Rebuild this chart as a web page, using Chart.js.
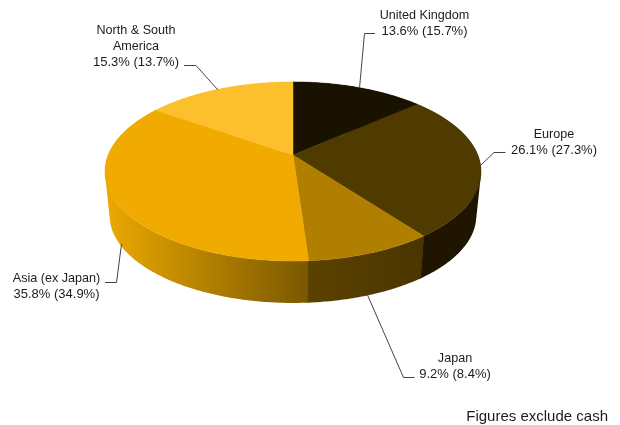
<!DOCTYPE html>
<html>
<head>
<meta charset="utf-8">
<style>
  html, body { margin: 0; padding: 0; background: #ffffff; }
  canvas { display: block; }
</style>
<script src="https://cdn.jsdelivr.net/npm/chart.js@4/dist/chart.umd.min.js"></script>
</head>
<body>
<canvas id="chart" width="620" height="425"></canvas>
<script>
// Portfolio split by region: current weight and, in brackets, the prior weight.
const regions = ['United Kingdom', 'Europe', 'Japan', 'Asia (ex Japan)', 'North & South America'];
const weights = [13.6, 26.1, 9.2, 35.8, 15.3];
const priorWeights = [15.7, 27.3, 8.4, 34.9, 13.7];
const topColours = ['#1a1200', '#4f3a00', '#b07f00', '#f0aa00', '#fdc02d'];
const wallColoursFrom = ['#1a1200', '#1f1500', '#5c4200', '#eca900', '#fdc02d'];
const wallColoursTo = ['#1a1200', '#1f1500', '#4a3500', '#7a5800', '#fdc02d'];
const footnote = 'Figures exclude cash';

// Perspective disc: centre, half axes and foreshortening of the top face.
const disc = { cx: 293, cy: 155, kx: 184.8, ky: 86.5, tilt: 0.184 };
// The lower rim sits further from the eye, so it is slightly smaller.
const rim = { cy: 199.6, scale: 0.975 };

// Callout text blocks and their leader lines, one per region.
const callouts = [
  { x: 424.5, lines: ['United Kingdom'], y: 18.5, leader: [[375, 33.5], [364.5, 33.5], [359.5, 88]] },
  { x: 554, lines: ['Europe'], y: 137.5, leader: [[505.5, 152.5], [494, 152.5], [481, 165]] },
  { x: 455, lines: ['Japan'], y: 361.5, leader: [[414.5, 377.5], [403.5, 377.5], [367.5, 295]] },
  { x: 56.5, lines: ['Asia (ex Japan)'], y: 282, leader: [[105, 282.5], [116.5, 282.5], [121.5, 244]] },
  { x: 136, lines: ['North & South', 'America'], y: 34, leader: [[184, 65.5], [196, 65.5], [218, 90]] }
];

function project(angle, cy, scale) {
  const u = Math.cos(angle);
  const v = Math.sin(angle);
  const w = 1 - disc.tilt * v;
  return {
    x: disc.cx + scale * disc.kx * u / w,
    y: cy + scale * disc.ky * v / w
  };
}

function arcPoints(start, end, cy, scale) {
  const steps = Math.max(2, Math.ceil((end - start) * 90));
  const pts = [];
  for (let i = 0; i <= steps; i++) {
    pts.push(project(start + (end - start) * i / steps, cy, scale));
  }
  return pts;
}

function addPolygon(ctx, pts) {
  pts.forEach((p, i) => (i ? ctx.lineTo(p.x, p.y) : ctx.moveTo(p.x, p.y)));
  ctx.closePath();
}

function signedArea(pts) {
  return pts.reduce((sum, p, i) => {
    const q = pts[(i + 1) % pts.length];
    return sum + p.x * q.y - q.x * p.y;
  }, 0);
}

const tiltedPie = {
  id: 'tiltedPie',
  beforeDatasetDraw(chart, args) {
    const ctx = chart.ctx;
    const arcs = chart.getDatasetMeta(args.index).data;
    const order = arcs.map((arc, i) => i).sort((a, b) =>
      Math.sin((arcs[a].startAngle + arcs[a].endAngle) / 2) -
      Math.sin((arcs[b].startAngle + arcs[b].endAngle) / 2));

    // Outer walls first, back to front, so the top faces can cover them.
    // One path holds all the strips of a wall, wound the same way, so their
    // union also covers the side silhouette without seams.
    order.forEach(i => {
      const { startAngle, endAngle } = arcs[i];
      const top = arcPoints(startAngle, endAngle, disc.cy, 1);
      const low = arcPoints(startAngle, endAngle, rim.cy, rim.scale);
      const xs = top.concat(low).map(p => p.x);
      const shade = ctx.createLinearGradient(Math.min(...xs), 0, Math.max(...xs), 0);
      shade.addColorStop(0, wallColoursFrom[i]);
      shade.addColorStop(1, wallColoursTo[i]);
      ctx.fillStyle = shade;
      ctx.beginPath();
      for (let s = 0; s < top.length - 1; s++) {
        const strip = [top[s], top[s + 1], low[s + 1], low[s]];
        addPolygon(ctx, signedArea(strip) < 0 ? strip.reverse() : strip);
      }
      ctx.fill('nonzero');

      // Close the hairline between neighbouring walls.
      const last = top.length - 1;
      ctx.strokeStyle = shade;
      ctx.lineWidth = 1;
      ctx.beginPath();
      ctx.moveTo(top[0].x, top[0].y);
      ctx.lineTo(low[0].x, low[0].y);
      ctx.moveTo(top[last].x, top[last].y);
      ctx.lineTo(low[last].x, low[last].y);
      ctx.stroke();
    });

    arcs.forEach((arc, i) => {
      const pts = arcPoints(arc.startAngle, arc.endAngle, disc.cy, 1);
      pts.unshift({ x: disc.cx, y: disc.cy });
      ctx.fillStyle = topColours[i];
      ctx.strokeStyle = topColours[i];
      ctx.lineWidth = 0.5;
      ctx.beginPath();
      addPolygon(ctx, pts);
      ctx.fill();
      ctx.stroke();
    });
    return false;
  },
  afterDatasetsDraw(chart) {
    const ctx = chart.ctx;
    ctx.save();
    ctx.textAlign = 'center';
    ctx.textBaseline = 'alphabetic';
    callouts.forEach((c, i) => {
      ctx.strokeStyle = '#444444';
      ctx.lineWidth = 1;
      ctx.beginPath();
      c.leader.forEach((p, j) => (j ? ctx.lineTo(p[0], p[1]) : ctx.moveTo(p[0], p[1])));
      ctx.stroke();

      ctx.fillStyle = '#1c1c1c';
      ctx.font = '12.6px "Liberation Sans", Arial, sans-serif';
      c.lines.forEach((line, j) => ctx.fillText(line, c.x, c.y + j * 16));
      ctx.font = '13px "Liberation Sans", Arial, sans-serif';
      const shares = `${weights[i].toFixed(1)}% (${priorWeights[i].toFixed(1)}%)`;
      ctx.fillText(shares, c.x, c.y + c.lines.length * 16);
    });
    ctx.font = '15px "Liberation Sans", Arial, sans-serif';
    ctx.textAlign = 'right';
    ctx.fillStyle = '#1c1c1c';
    ctx.fillText(footnote, 608, 421);
    ctx.restore();
  }
};

new Chart(document.getElementById('chart'), {
  type: 'pie',
  data: {
    labels: regions,
    datasets: [{ data: weights, backgroundColor: topColours, borderWidth: 0 }]
  },
  options: {
    responsive: false,
    animation: false,
    events: [],
    plugins: { legend: { display: false }, tooltip: { enabled: false } }
  },
  plugins: [tiltedPie]
});
</script>
</body>
</html>
